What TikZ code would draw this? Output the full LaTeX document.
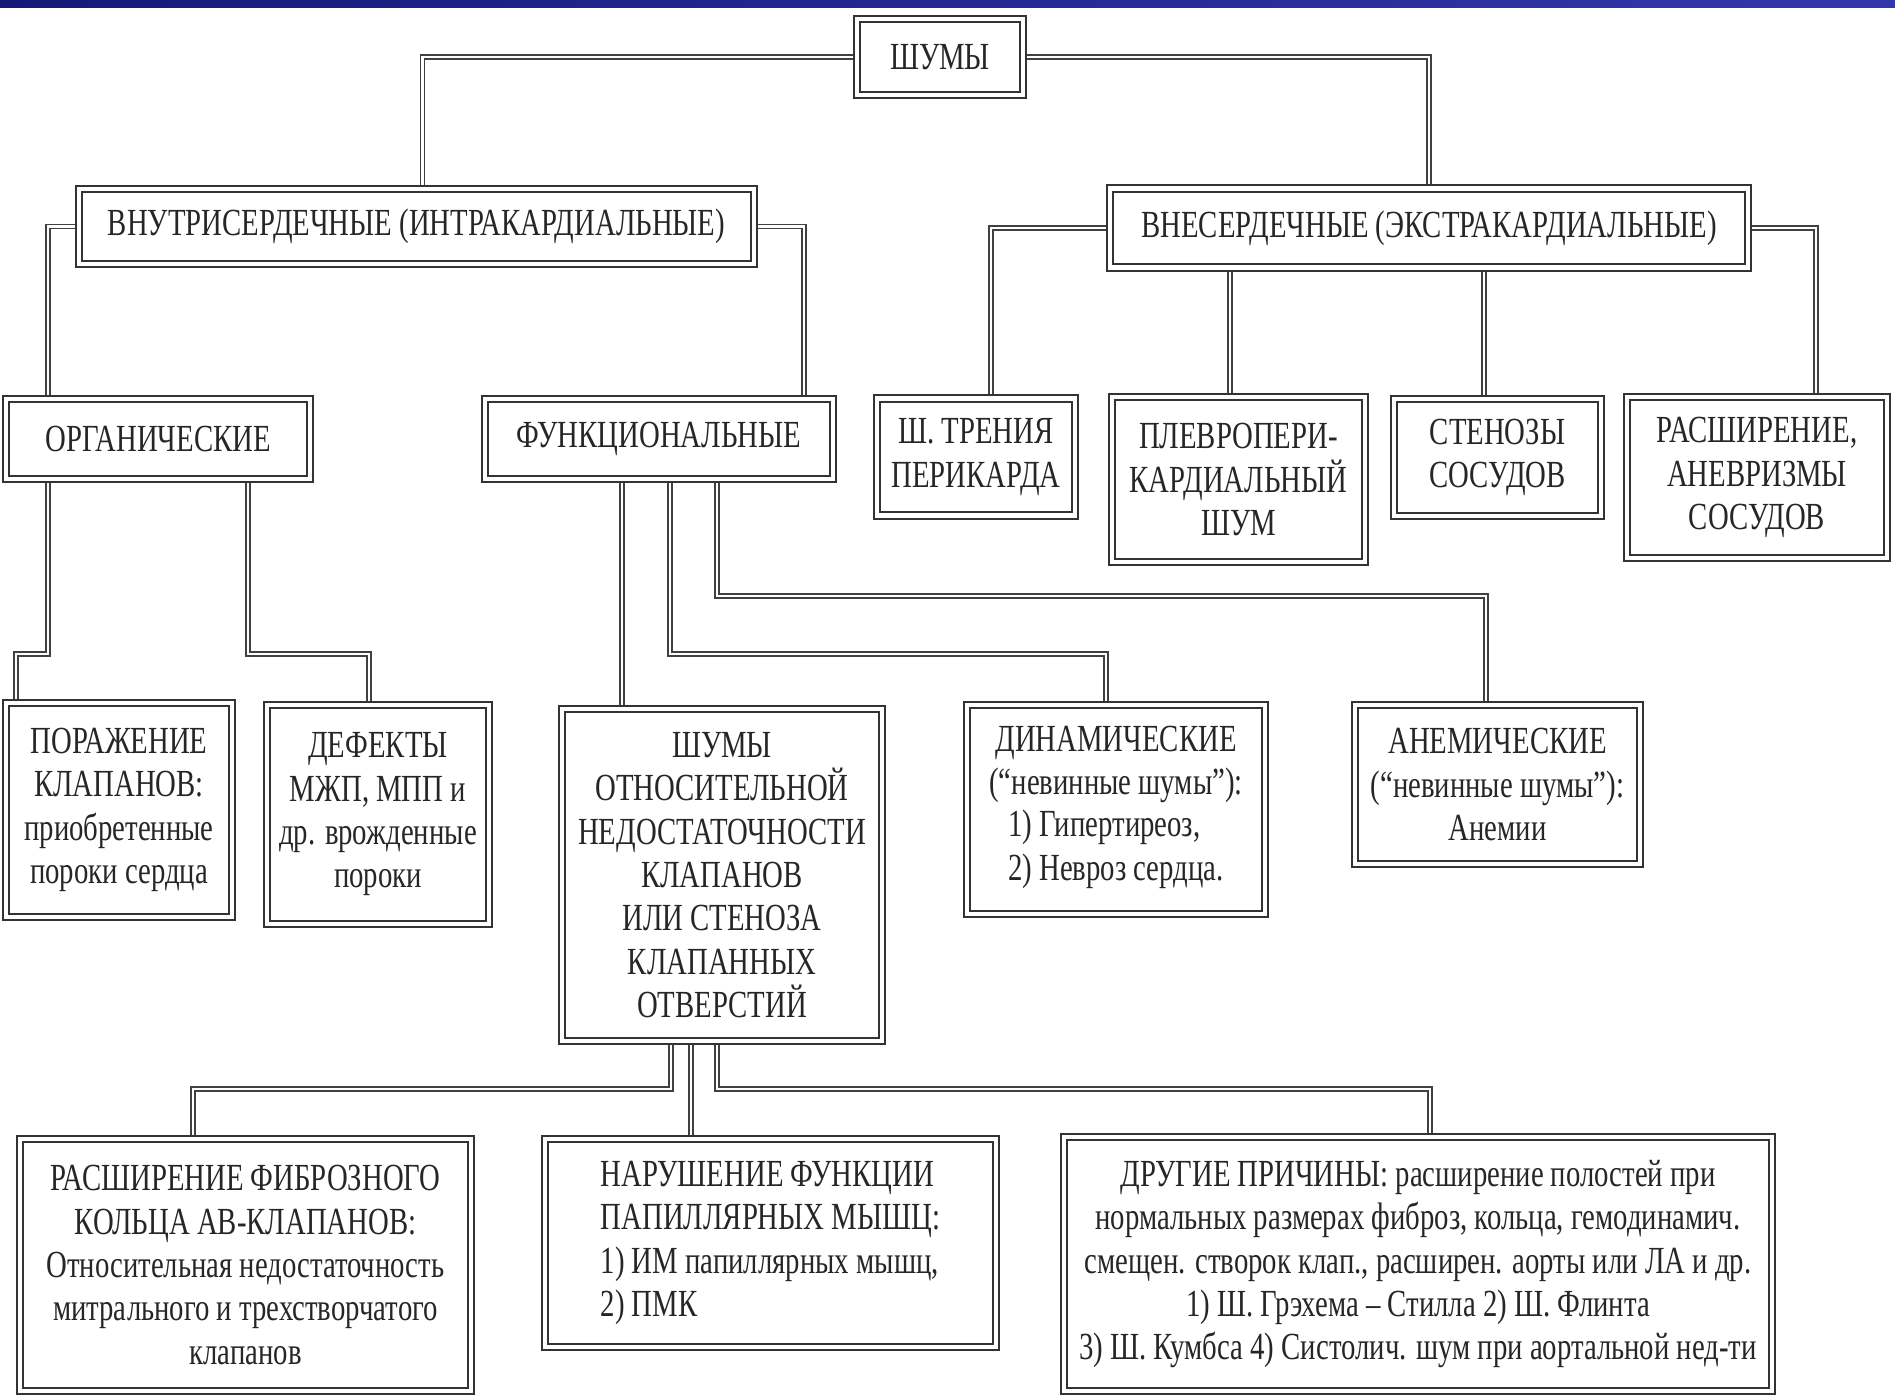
\documentclass[tikz,border=0pt]{standalone}
\usepackage{fontspec}
\setmainfont{Liberation Serif}[FakeStretch=0.75]
\usetikzlibrary{calc,positioning,backgrounds}
\definecolor{bandleft}{RGB}{22,24,120}
\definecolor{bandright}{RGB}{50,56,170}
\tikzset{
  box/.style={draw=black!80, double, double distance=1.3pt, line width=0.6pt, fill=white,
              align=center, inner sep=2pt, text=black!85, font=\fontsize{11.5}{13}\selectfont},
  wire/.style={draw=black!75, double, double distance=0.8pt, line width=0.45pt},
  wh/.style 2 args={minimum width=#1*0.3pt, minimum height=#2*0.3pt},
}

\begin{document}
\begin{tikzpicture}[x=0.3pt,y=-0.3pt]
  \useasboundingbox (0,0) rectangle (1895,1397);
  \shade[left color=bandleft, right color=bandright] (0,0) rectangle (1895,7);
  % top levels
  \node[box, wh={166}{76}] (shumy) at (940,57) {ШУМЫ};
  \node[box, wh={675}{75}] (vnutri) at (416.5,226.5) {ВНУТРИСЕРДЕЧНЫЕ (ИНТРАКАРДИАЛЬНЫЕ)};
  \node[box, wh={638}{79}] (vne) at (1429,228) {ВНЕСЕРДЕЧНЫЕ (ЭКСТРАКАРДИАЛЬНЫЕ)};
  \node[box, wh={304}{80}] (org) at (158,439) {ОРГАНИЧЕСКИЕ};
  \node[box, wh={348}{80}] (funk) at (659,439) {ФУНКЦИОНАЛЬНЫЕ};
  \node[box, wh={198}{117}] (trenie) at (976,457) {Ш. ТРЕНИЯ\\ПЕРИКАРДА};
  \node[box, wh={253}{165}] (pleuro) at (1238.5,479.5) {ПЛЕВРОПЕРИ-\\КАРДИАЛЬНЫЙ\\ШУМ};
  \node[box, wh={207}{117}] (stenoz) at (1497.5,457.5) {СТЕНОЗЫ\\СОСУДОВ};
  \node[box, wh={260}{161}] (rassh) at (1757,477.5) {РАСШИРЕНИЕ,\\АНЕВРИЗМЫ\\СОСУДОВ};
  % third level
  \node[box, wh={226}{214}] (porazh) at (119,810) {ПОРАЖЕНИЕ\\КЛАПАНОВ:\\приобретенные\\пороки сердца};
  \node[box, wh={222}{219}] (defekt) at (378,814.5) {ДЕФЕКТЫ\\МЖП, МПП и\\др. врожденные\\пороки};
  \node[box, wh={320}{332}] (shotn) at (722,875)
    {ШУМЫ\\ОТНОСИТЕЛЬНОЙ\\НЕДОСТАТОЧНОСТИ\\КЛАПАНОВ\\ИЛИ СТЕНОЗА\\КЛАПАННЫХ\\ОТВЕРСТИЙ};
  \node[box, wh={298}{209}] (dinam) at (1116,809.5)
    {ДИНАМИЧЕСКИЕ\\(“невинные шумы”):\\\begin{tabular}{@{}l@{}}1) Гипертиреоз,\\2) Невроз сердца.\end{tabular}};
  \node[box, wh={285}{159}] (anem) at (1497.5,784.5) {АНЕМИЧЕСКИЕ\\(“невинные шумы”):\\Анемии};
  % bottom level
  \node[box, wh={451}{252}] (rfib) at (245.5,1265)
    {РАСШИРЕНИЕ ФИБРОЗНОГО\\КОЛЬЦА АВ-КЛАПАНОВ:\\Относительная недостаточность\\митрального и трехстворчатого\\клапанов};
  \node[box, wh={451}{208}, align=left] (narush) at (770.5,1243)
    {НАРУШЕНИЕ ФУНКЦИИ\\ПАПИЛЛЯРНЫХ МЫШЦ:\\1) ИМ папиллярных мышц,\\2) ПМК};
  \node[box, wh={708}{254}] (drugie) at (1418,1264)
    {ДРУГИЕ ПРИЧИНЫ: расширение полостей при\\нормальных размерах фиброз, кольца, гемодинамич.\\смещен. створок клап., расширен. аорты или ЛА и др.\\1) Ш. Грэхема -- Стилла 2) Ш. Флинта\\3) Ш. Кумбса 4) Систолич. шум при аортальной нед-ти};
  % connectors
  \begin{scope}[on background layer]
    \draw[wire] (shumy.west) -| ($(vnutri.north)+(6,0)$);
    \draw[wire] (shumy.east) -| (vne.north);
    \draw[wire] (vnutri.west) -| ($(org.north)+(-110,0)$);
    \draw[wire] (vnutri.east) -| ($(funk.north)+(145,0)$);
    \draw[wire] (vne.west) -| ($(trenie.north)+(15,0)$);
    \draw[wire] ($(pleuro.north)+(-8.5,0)$) coordinate (p1) -- (p1 |- vne.south);
    \draw[wire] ($(stenoz.north)+(-13.5,0)$) coordinate (p2) -- (p2 |- vne.south);
    \draw[wire] (vne.east) -| ($(rassh.north)+(59,0)$);
    \draw[wire] ($(org.south)+(-110,0)$) -- ++(0,174) -| ($(porazh.north)+(-103,0)$);
    \draw[wire] ($(org.south)+(90,0)$) -- ++(0,174) -| ($(defekt.north)+(-9,0)$);
    \draw[wire] ($(funk.south)+(-37,0)$) coordinate (f1) -- (f1 |- shotn.north);
    \draw[wire] ($(funk.south)+(11,0)$) -- ++(0,174) -| ($(dinam.north)+(-10,0)$);
    \draw[wire] ($(funk.south)+(58,0)$) -- ++(0,116) -| ($(anem.north)+(-11.5,0)$);
    \draw[wire] ($(shotn.south)+(-51,0)$) -- ++(0,47) -| ($(rfib.north)+(-52.5,0)$);
    \draw[wire] ($(shotn.south)+(-31,0)$) coordinate (s2) -- (s2 |- narush.north);
    \draw[wire] ($(shotn.south)+(-5,0)$) -- ++(0,47) -| ($(drugie.north)+(12,0)$);
  \end{scope}
\end{tikzpicture}
\end{document}
